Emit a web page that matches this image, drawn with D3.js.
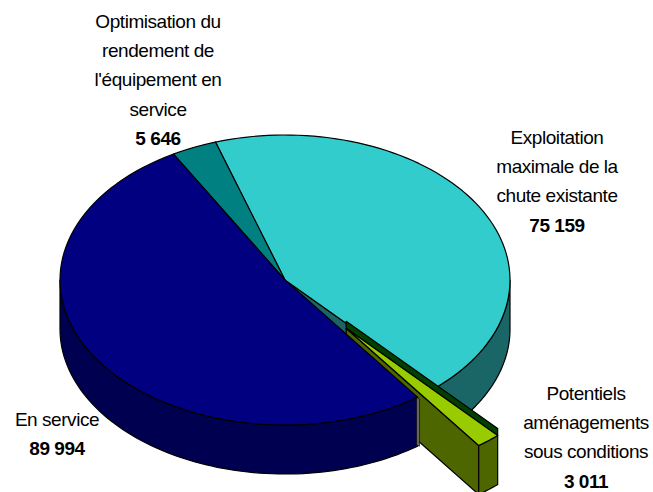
<!DOCTYPE html>
<html><head><meta charset="utf-8">
<script src="https://cdn.jsdelivr.net/npm/d3@7"></script>
<style>html,body{margin:0;padding:0;background:#fff}svg{display:block}
text{font-family:"Liberation Sans",Arial,sans-serif;font-size:19px;fill:#000;text-anchor:middle;letter-spacing:-.45px}
.v{font-weight:bold}</style></head><body>
<script>
const categories = ["Exploitation maximale de la chute existante","Potentiels aménagements sous conditions","En service","Optimisation du rendement de l'équipement en service"];
const values = [75159,3011,89994,5646];
const valueLabels = ["75 159","3 011","89 994","5 646"];
const labelLines = [["Exploitation","maximale de la","chute existante"],["Potentiels","aménagements","sous conditions"],["En service"],["Optimisation du","rendement de","l'équipement en","service"]];
const topColors = ["#33cccc","#99cc00","#000080","#008080"];
const sideColors = ["#1a6666","#4d6600","#000050","#004040"];

const W=653,H=492,cx=285,cy=280,rx=225,ry=145,depth=49,explode=0.43;
const svg=d3.select("body").append("svg").attr("width",W).attr("height",H);
const rad=Math.PI/180;
const sx=d3.scaleLinear().domain([-1,1]).range([cx-rx,cx+rx]);
const sy=d3.scaleLinear().domain([-1,1]).range([cy+ry,cy-ry]);
const pie=d3.pie().sort(null).startAngle(-18*rad).endAngle(342*rad)(values);
const P=(a,r=1,o=[0,0],d=0)=>[sx(r*Math.sin(a))+o[0],sy(r*Math.cos(a))+o[1]+d];
const line=d3.line();
const poly=(pts,fill,stroke="#000",sw=1.2)=>svg.append("path").attr("d",line(pts)+"Z").attr("fill",fill).attr("stroke",stroke).attr("stroke-width",sw).attr("stroke-linejoin","round");
const arcPts=(a0,a1,o,d,n=80)=>d3.range(n+1).map(i=>P(a0+(a1-a0)*i/n,1,o,d));
const rimSide=(a0,a1,fill,o=[0,0])=>poly([...arcPts(a0,a1,o,0),...arcPts(a1,a0,o,depth)],fill);
const wedge=(a0,a1,fill,o=[0,0])=>poly([[cx+o[0],cy+o[1]],...arcPts(a0,a1,o,0)],fill);

const [cyan,green,blue,teal]=pie;
const m=(green.startAngle+green.endAngle)/2;
const off=[rx*explode*Math.sin(m),-ry*explode*Math.cos(m)];

// walls
rimSide(Math.PI/2,cyan.endAngle,sideColors[0]);
poly([[cx,cy],P(cyan.endAngle),P(cyan.endAngle,1,[0,0],depth),[cx,cy+depth]],sideColors[0]);
// exploded slice: cut face, outer face
const apex=[cx+off[0],cy+off[1]];
poly([apex,P(green.endAngle,1,off),P(green.endAngle,1,off,depth),[apex[0],apex[1]+depth]],sideColors[1]);
rimSide(green.endAngle,green.startAngle,sideColors[1],off);
// blue wall
rimSide(blue.startAngle,3*Math.PI/2,sideColors[2]);
const bc=P(blue.startAngle);
svg.append("path").attr("d",line([[bc[0]-1,bc[1]],[bc[0]+2,bc[1]+2],[bc[0]+2,bc[1]+depth],[bc[0]-1,bc[1]+depth-1]])+"Z").attr("fill","#666").attr("stroke","#000").attr("stroke-width",.6);
// tops
wedge(cyan.startAngle,cyan.endAngle,topColors[0]);
wedge(teal.startAngle,teal.endAngle,topColors[3]);
wedge(blue.startAngle,blue.endAngle,topColors[2]);
// dark strip behind exploded top
const gs=P(green.startAngle,1,off),lift=7;
poly([[apex[0],apex[1]-lift],[gs[0],gs[1]-lift],gs,apex],"#004000");
wedge(green.startAngle,green.endAngle,topColors[1],off);

// labels
const labelX=[557,586,57,158], labelY=[144,400,426,28], lh=29.2;
pie.forEach((d,i)=>{
  const t=svg.append("text");
  labelLines[i].forEach((s,j)=>t.append("tspan").attr("x",labelX[i]).attr("y",labelY[i]+j*lh).text(s));
  t.append("tspan").attr("class","v").attr("x",labelX[i]).attr("y",labelY[i]+labelLines[i].length*lh).text(valueLabels[i]);
});
</script></body></html>
